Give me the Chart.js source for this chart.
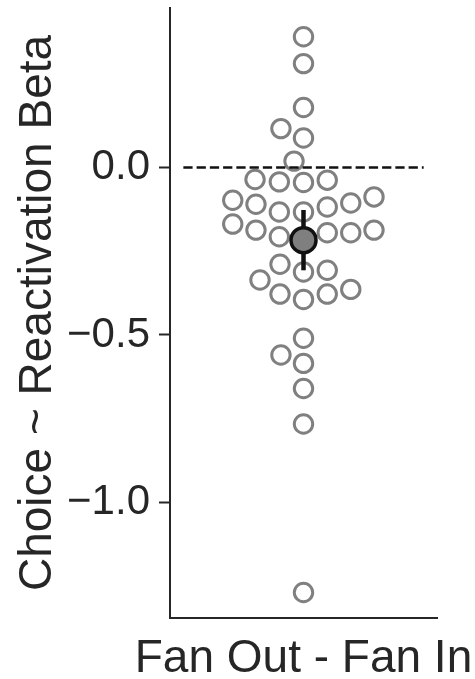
<!DOCTYPE html>
<html>
<head>
<meta charset="utf-8">
<script src="https://cdn.jsdelivr.net/npm/chart.js@4/dist/chart.umd.min.js"></script>
<style>
	html, body { margin: 0; padding: 0; background: #ffffff; }
	#chart { display: block; }
</style>
</head>
<body>
<canvas id="chart" width="475" height="679"></canvas>
<script>
//данные графика
const categoryLabel = 'Fan Out - Fan In';
const yAxisTitle = 'Choice ~ Reactivation Beta';
const yTickValues = [-1.0, -0.5, 0.0];

//значения beta для каждого участника
const betaValues = [
	0.390, 0.310, 0.179, 0.116, 0.088, 0.019,
	-0.036, -0.043, -0.045, -0.038,
	-0.098, -0.110, -0.133, -0.133, -0.118, -0.106, -0.088,
	-0.169, -0.187, -0.207, -0.195, -0.195, -0.187,
	-0.289, -0.312, -0.307, -0.336, -0.378, -0.394, -0.378, -0.364,
	-0.510, -0.560, -0.585, -0.660, -0.766, -1.269
];
//смещение точек роя по горизонтали
const swarmOffsets = [
	0, 0, 0, -0.169, 0, -0.071,
	-0.363, -0.181, 0, 0.178,
	-0.530, -0.356, -0.181, 0, 0.178, 0.354, 0.528,
	-0.530, -0.356, -0.181, 0.178, 0.354, 0.528,
	-0.176, 0, 0.178, -0.326, -0.176, 0, 0.178, 0.354,
	0, -0.169, 0, 0, 0, 0
];

//среднее и доверительный интервал
const meanValue = [-0.217];
const ciValues = [-0.307, -0.127];
const zeroLineX = [-0.9, 0.9];

const textColor = '#262626';
const fontFamily = '"Liberation Sans", Arial, Helvetica, sans-serif';

let swarmPoints = betaValues.map(function (v, i) {
	return {x: swarmOffsets[i], y: v};
});

let ctx = document.getElementById('chart').getContext('2d');
let myChart = new Chart(ctx, {
	type: 'scatter',
	data: {
		datasets: [
			{ //среднее
				data: [{x: 0, y: meanValue[0]}],
				pointRadius: 12.5,
				pointBorderWidth: 3.5,
				pointBackgroundColor: '#7f7f7f',
				pointBorderColor: '#111111',
				order: 0
			},
			{ //доверительный интервал
				type: 'line',
				data: ciValues.map(function (v) { return {x: 0, y: v}; }),
				borderColor: '#111111',
				borderWidth: 4.5,
				pointRadius: 0,
				order: 1
			},
			{ //линия нуля
				type: 'line',
				data: zeroLineX.map(function (x) { return {x: x, y: 0}; }),
				borderColor: '#111111',
				borderWidth: 2.5,
				borderDash: [9.25, 4],
				pointRadius: 0,
				order: 2
			},
			{ //точки участников
				data: swarmPoints,
				pointRadius: 9.2,
				pointBorderWidth: 3,
				pointBackgroundColor: 'rgba(0,0,0,0)',
				pointBorderColor: '#808080',
				order: 3
			}
		]
	},
	options: {
		responsive: false,
		animation: false,
		devicePixelRatio: 1,
		layout: {
			autoPadding: false, //иначе отступ под радиус точки
			padding: {top: 8, right: 38, bottom: 0, left: 0}
		},
		plugins: {
			legend: {display: false},
			tooltip: {enabled: false}
		},
		scales: {
			x: {
				type: 'linear',
				min: -1,
				max: 1,
				afterBuildTicks: function (scale) {
					scale.ticks = [{value: 0}];
				},
				afterFit: function (scale) {
					scale.height = 61;
					scale.paddingLeft = 0;
					scale.paddingRight = 0;
				},
				ticks: {
					callback: function () { return categoryLabel; },
					maxRotation: 0,
					minRotation: 0,
					padding: 14,
					color: textColor,
					font: {family: fontFamily, size: 46}
				},
				grid: {display: false, drawTicks: false},
				border: {display: true, color: textColor, width: 2}
			},
			y: {
				min: -1.345,
				max: 0.476,
				afterBuildTicks: function (scale) {
					scale.ticks = yTickValues.map(function (v) { return {value: v}; });
				},
				afterFit: function (scale) {
					scale.width = 170;
					scale.paddingTop = 0;
					scale.paddingBottom = 0;
				},
				ticks: {
					callback: function (value) {
						return value.toFixed(1).replace('-', '\u2212');
					},
					padding: 9,
					color: textColor,
					font: {family: fontFamily, size: 42}
				},
				grid: {
					display: true,
					drawOnChartArea: false,
					drawTicks: true,
					tickLength: 11,
					tickWidth: 2,
					tickColor: textColor
				},
				border: {display: true, color: textColor, width: 2},
				title: {
					display: true,
					text: yAxisTitle,
					color: textColor,
					padding: {top: 11, bottom: 0},
					font: {family: fontFamily, size: 46}
				}
			}
		}
	}
});
</script>
</body>
</html>
